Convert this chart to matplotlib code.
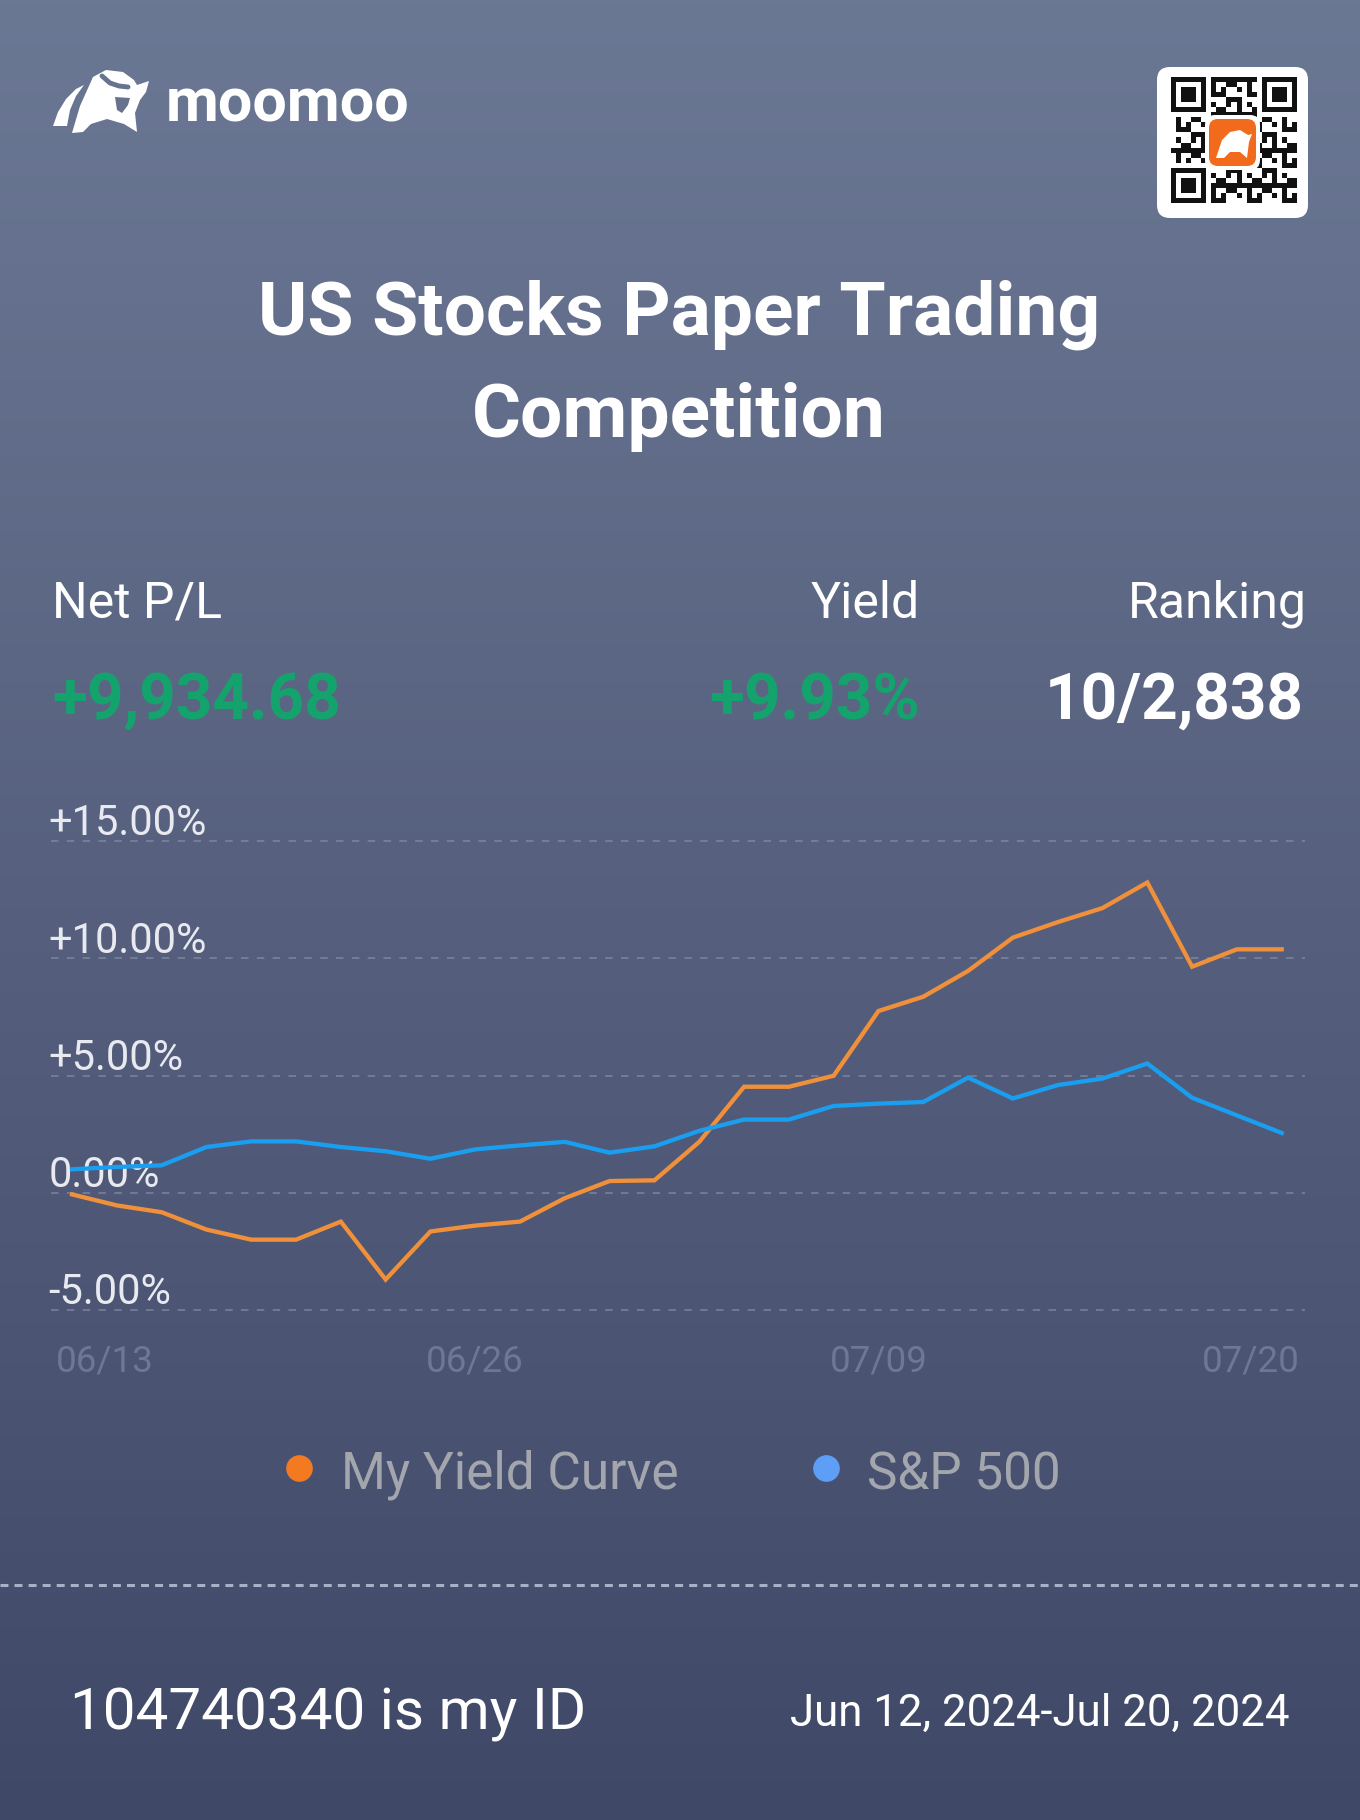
import numpy as np
import matplotlib
matplotlib.use("Agg")
import matplotlib.pyplot as plt
from matplotlib.patches import FancyBboxPatch, Polygon
from matplotlib.transforms import blended_transform_factory

plt.rcParams["font.family"] = ["Roboto", "DejaVu Sans"]

# chart data
dates = ["06/13", "06/14", "06/17", "06/18", "06/19", "06/20", "06/21",
         "06/24", "06/25", "06/26", "06/27", "06/28", "07/01", "07/02",
         "07/03", "07/04", "07/05", "07/08", "07/09", "07/10", "07/11",
         "07/12", "07/15", "07/16", "07/17", "07/18", "07/19", "07/20"]
my_yield = [-0.07, -0.54, -0.83, -1.57, -2.00, -2.00, -1.23, -3.70, -1.65,
            -1.40, -1.23, -0.23, 0.50, 0.53, 2.17, 4.52, 4.52, 4.99, 7.75,
            8.36, 9.46, 10.88, 11.54, 12.14, 13.23, 9.64, 10.38, 10.38]
sp500 = [1.00, 1.10, 1.17, 1.95, 2.19, 2.19, 1.95, 1.77, 1.45, 1.85, 2.02,
         2.17, 1.71, 1.98, 2.64, 3.12, 3.12, 3.70, 3.80, 3.87, 4.91, 4.02,
         4.59, 4.87, 5.51, 4.05, 3.30, 2.55]
series_names = ["My Yield Curve", "S&P 500"]
y_ticks = [15, 10, 5, 0, -5]
y_tick_labels = ["+15.00%", "+10.00%", "+5.00%", "0.00%", "-5.00%"]
x_tick_idx = [0, 9, 18, 27]

header_labels = ["Net P/L", "Yield", "Ranking"]
header_values = ["+9,934.68", "+9.93%", "10/2,838"]

ORANGE = "#f0903a"
BLUE = "#1a9ef0"
GREEN = "#14a36c"

W, H = 1360, 1820
fig = plt.figure(figsize=(W / 100, H / 100), dpi=100)

# background in pixel coordinates
bg = fig.add_axes([0, 0, 1, 1])
bg.set_xlim(0, W)
bg.set_ylim(H, 0)
bg.axis("off")
top = np.array([107, 120, 148]) / 255
mid = np.array([86, 96, 126]) / 255
bot = np.array([64, 72, 104]) / 255
t = np.linspace(0, 1, 400)[:, None]
grad = np.where(t < 0.5, top + (mid - top) * (t / 0.5), mid + (bot - mid) * ((t - 0.5) / 0.5))
bg.imshow(grad[:, None, :], extent=[0, W, H, 0], aspect="auto", zorder=0)

# moomoo logo
stripe = Polygon([(53, 126), (67, 126), (70, 110), (76, 96), (84, 85),
                  (76, 89), (66, 99), (58, 112)], closed=True, fc="white", ec="none", zorder=2)
body = Polygon([(72, 133), (80, 106), (93, 77), (106, 70), (123, 72), (134, 80),
                (137, 85), (149, 81), (146, 92), (140, 100), (135, 113),
                (137, 132), (124, 124), (107, 119), (91, 124), (83, 132)],
               closed=True, fc="white", ec="none", zorder=2)
bg.add_patch(stripe)
bg.add_patch(body)
bg.plot([102, 110, 119, 128], [76, 83, 86, 87], color="#67738f", lw=3.5,
        solid_capstyle="round", zorder=3)
bg.add_patch(Polygon([(115, 97), (130, 98), (128, 105), (122, 113), (117, 110)],
                     closed=True, fc="#66728e", ec="none", zorder=3))
bg.text(166, 122, "moomoo", color="white", fontsize=44, fontweight="bold",
        va="baseline", ha="left", zorder=3)

# QR code box
bg.add_patch(FancyBboxPatch((1170, 80), 125, 125, boxstyle="round,pad=13,rounding_size=13",
                            fc="white", ec="none", zorder=2))
n = 25
cell = 126 / n
x0, y0 = 1171, 77
for r in range(n):
    for c in range(n):
        in_finder = (r < 8 and c < 8) or (r < 8 and c >= n - 8) or (r >= n - 8 and c < 8)
        if in_finder:
            continue
        if ((r * r * 3 + c * 7 + r * c * 5) % 7) < 3:
            bg.add_patch(plt.Rectangle((x0 + c * cell, y0 + r * cell), cell, cell,
                                       fc="#111111", ec="none", zorder=3))
for fr, fc in [(0, 0), (0, n - 7), (n - 7, 0)]:
    fx, fy = x0 + fc * cell, y0 + fr * cell
    bg.add_patch(plt.Rectangle((fx, fy), 7 * cell, 7 * cell, fc="#111111", ec="none", zorder=3))
    bg.add_patch(plt.Rectangle((fx + cell, fy + cell), 5 * cell, 5 * cell, fc="white", ec="none", zorder=3))
    bg.add_patch(plt.Rectangle((fx + 2 * cell, fy + 2 * cell), 3 * cell, 3 * cell, fc="#111111", ec="none", zorder=3))
bg.add_patch(FancyBboxPatch((1205, 115), 55, 55, boxstyle="round,pad=0,rounding_size=10",
                            fc="white", ec="none", zorder=4))
bg.add_patch(FancyBboxPatch((1209, 119), 47, 47, boxstyle="round,pad=0,rounding_size=9",
                            fc="#f26a1b", ec="none", zorder=5))
bg.add_patch(Polygon([(1216, 158), (1222, 140), (1230, 132), (1240, 130), (1248, 135),
                      (1252, 134), (1249, 142), (1247, 158), (1240, 152), (1230, 152), (1224, 158)],
                     closed=True, fc="white", ec="none", zorder=6))

# title
bg.text(W / 2 - 1, 335, "US Stocks Paper Trading", color="white", fontsize=54,
        fontweight="bold", ha="center", va="baseline")
bg.text(W / 2 - 1, 437, "Competition", color="white", fontsize=54,
        fontweight="bold", ha="center", va="baseline")

# header stats
bg.text(52, 618, header_labels[0], color="white", fontsize=36, ha="left", va="baseline")
bg.text(920, 618, header_labels[1], color="white", fontsize=36, ha="right", va="baseline")
bg.text(1307, 618, header_labels[2], color="white", fontsize=36, ha="right", va="baseline")
bg.text(52, 719, header_values[0], color=GREEN, fontsize=46, fontweight="bold", ha="left", va="baseline")
bg.text(920, 719, header_values[1], color=GREEN, fontsize=46, fontweight="bold", ha="right", va="baseline")
bg.text(1304, 719, header_values[2], color="white", fontsize=46, fontweight="bold", ha="right", va="baseline")

# chart
ax = fig.add_axes([51 / W, 1 - 1310 / H, (1305 - 51) / W, (1310 - 841) / H])
ax.patch.set_alpha(0)
x = np.arange(len(dates))
ax.set_xlim(-0.469, 27.52)
ax.set_ylim(-5, 15)
for s in ax.spines.values():
    s.set_visible(False)
ax.set_xticks([])
ax.set_yticks([])

ytrans = blended_transform_factory(ax.transAxes, ax.transData)
for v, lab in zip(y_ticks, y_tick_labels):
    ax.axhline(v, color="#868ea6", lw=1.2, ls=(0, (4.5, 5.0)), alpha=0.75, zorder=1, clip_on=False)
    ax.text(-0.002, v + 0.24, lab, transform=ytrans, color="#e8eaf0", fontsize=30,
            ha="left", va="baseline", zorder=2, clip_on=False)

ax.plot(x, my_yield, color=ORANGE, lw=3.1, zorder=4, solid_joinstyle="miter")
ax.plot(x, sp500, color=BLUE, lw=3.1, zorder=4, solid_joinstyle="miter")

xtrans = blended_transform_factory(ax.transData, ax.transAxes)
for k, i in enumerate(x_tick_idx):
    if k == 0:
        ax.text(0.004, -0.131, dates[i], transform=ax.transAxes, color="#6f7793",
                fontsize=26.5, ha="left", va="baseline", clip_on=False)
    elif k == len(x_tick_idx) - 1:
        ax.text(0.996, -0.131, dates[i], transform=ax.transAxes, color="#6f7793",
                fontsize=26.5, ha="right", va="baseline", clip_on=False)
    else:
        ax.text(i, -0.131, dates[i], transform=xtrans, color="#6f7793",
                fontsize=26.5, ha="center", va="baseline", clip_on=False)

# legend
bg.scatter([299], [1468], s=330, color="#f47a22", zorder=3)
bg.text(341, 1489, series_names[0], color="#a3a6ad", fontsize=37, ha="left", va="baseline")
bg.scatter([826], [1468], s=330, color="#5e9ef7", zorder=3)
bg.text(867, 1489, series_names[1], color="#a3a6ad", fontsize=37, ha="left", va="baseline")

# separator and footer
bg.plot([0, W], [1585, 1585], color="#aab1c6", lw=2.2, ls=(0, (2.6, 2.0)), zorder=2)
bg.text(70, 1729, "104740340 is my ID", color="white", fontsize=42, ha="left", va="baseline")
bg.text(1289, 1726, "Jun 12, 2024-Jul 20, 2024", color="white", fontsize=31.5,
        ha="right", va="baseline")

fig.savefig("out.png", dpi=100)
